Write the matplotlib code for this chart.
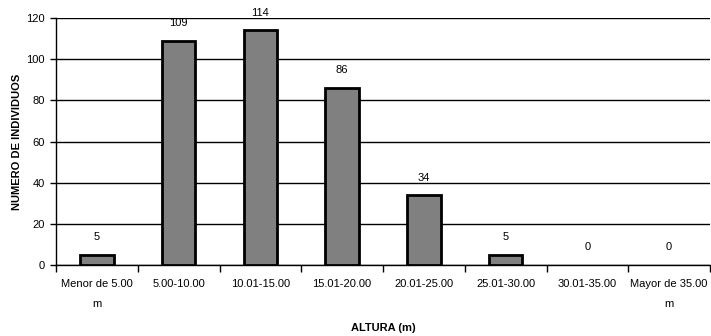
import matplotlib
matplotlib.use("Agg")
import matplotlib.pyplot as plt
from matplotlib import font_manager

categories = ["Menor de 5.00\nm", "5.00-10.00", "10.01-15.00", "15.01-20.00",
              "20.01-25.00", "25.01-30.00", "30.01-35.00", "Mayor de 35.00\nm"]
values = [5, 109, 114, 86, 34, 5, 0, 0]
yticks = [0, 20, 40, 60, 80, 100, 120]

names = {f.name for f in font_manager.fontManager.ttflist}
fam = "Liberation Sans Narrow" if "Liberation Sans Narrow" in names else "Liberation Sans"
plt.rcParams['font.family'] = [fam, 'DejaVu Sans']

fig = plt.figure(figsize=(7.11, 3.36), dpi=100)
ax = fig.add_axes([56/711, 1-265/336, 654/711, (265-18)/336])

x = list(range(len(categories)))
bars = ax.bar(x, values, width=0.41, color='#808080', edgecolor='black', linewidth=2, zorder=3)
for b, v in zip(bars, values):
    if v == 0:
        b.set_edgecolor('none')
for xi, v in zip(x, values):
    ax.annotate(str(v), (xi, v), xytext=(0, 9), textcoords='offset points',
                ha='center', va='bottom', fontsize=8)

ax.set_xlim(-0.5, len(categories) - 0.5)
ax.set_ylim(0, 120)
ax.set_yticks(yticks)
ax.set_yticklabels([str(t) for t in yticks], fontsize=8)
ax.yaxis.grid(True, color='black', linewidth=1)
ax.set_axisbelow(True)
for s in ['top', 'right']:
    ax.spines[s].set_visible(False)
ax.spines['left'].set_linewidth(1)
ax.spines['bottom'].set_linewidth(1)

ax.set_xticks([i - 0.5 for i in range(len(categories) + 1)], minor=False)
ax.set_xticklabels([])
ax.set_xticks(x, minor=True)
ax.set_xticklabels(categories, minor=True, fontsize=8, linespacing=2.3, va='top')
ax.tick_params(axis='x', which='major', length=5, width=1, direction='out')
ax.tick_params(axis='x', which='minor', length=0, pad=10)
ax.tick_params(axis='y', length=4, width=1, pad=4)

ax.set_ylabel("NUMERO DE INDIVIDUOS", fontsize=8, fontweight='bold', labelpad=3)
ax.set_xlabel("ALTURA (m)", fontsize=8, fontweight='bold', labelpad=10)

fig.savefig("out.png", dpi=100)
